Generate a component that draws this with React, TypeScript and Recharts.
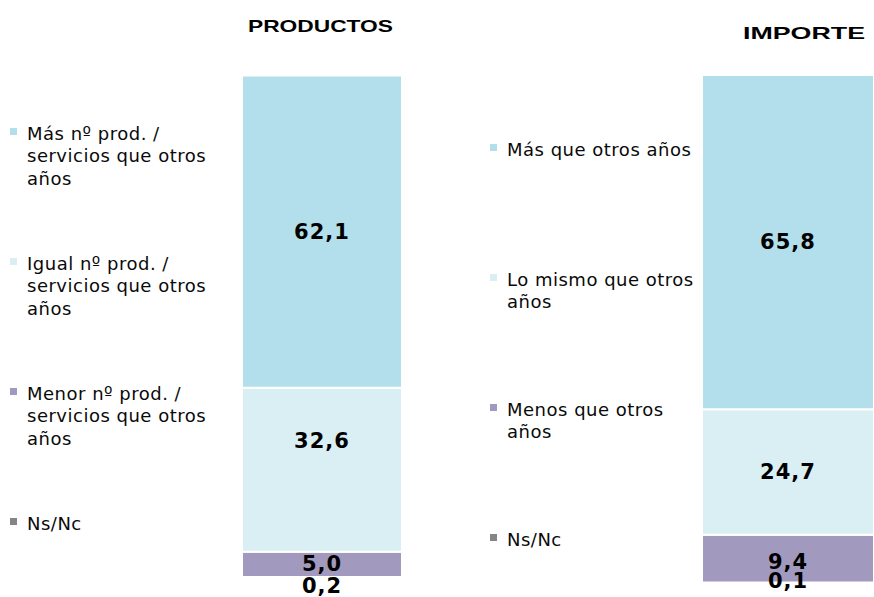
import React from 'react';
import { BarChart, Bar, XAxis, YAxis, LabelList, Legend } from 'recharts';

// ---- data ----
const titles = ['PRODUCTOS', 'IMPORTE'];
const productosSeries = [
  'Más nº prod. / servicios que otros años',
  'Igual nº prod. / servicios que otros años',
  'Menor nº prod. / servicios que otros años',
  'Ns/Nc',
];
const productosValues = [62.1, 32.6, 5.0, 0.2];
const importeSeries = [
  'Más que otros años',
  'Lo mismo que otros años',
  'Menos que otros años',
  'Ns/Nc',
];
const importeValues = [65.8, 24.7, 9.4, 0.1];
const seriesColors = ['#B2DFEB', '#DAEFF4', '#A299BE', '#858585'];

const fmt = (v: number) => v.toFixed(1).replace('.', ',');

type PanelCfg = {
  title: string;
  series: string[];
  values: number[];
  left: number;
  margin: { top: number; right: number; bottom: number; left: number };
  legendWidth: number;
  legendLeft: number;
  titleDx: number;
  titleRise: number;
  titleLength: number;
  firstBaseline: number;
  labelDy: number[];
  legendTextWidth: number;
};

const LegendContent = ({ payload, cfg }: any) => {
  const items = (payload || [])
    .slice()
    .sort((a: any, b: any) => String(a.dataKey).localeCompare(String(b.dataKey)));
  return (
    <div style={{ position: 'relative', width: cfg.legendWidth, height: 597 }}>
      {items.map((it: any, i: number) => {
        const top = cfg.firstBaseline - 17.5 + i * 130;
        return (
          <div
            key={i}
            style={{
              position: 'absolute',
              left: 0,
              top,
              display: 'flex',
              alignItems: 'flex-start',
            }}
          >
            <div
              style={{
                width: 7,
                height: 7,
                marginTop: 5,
                background: it.color,
                flex: 'none',
              }}
            />
            <div
              style={{
                marginLeft: 10,
                width: cfg.legendTextWidth,
                fontFamily: '"DejaVu Sans", Verdana, sans-serif',
                fontSize: 18,
                letterSpacing: 0.5,
                lineHeight: '22.5px',
                color: '#0a0a0a',
              }}
            >
              {it.value}
            </div>
          </div>
        );
      })}
    </div>
  );
};

const makeLabel = (dy: number) => (props: any) => {
  const { x, y, width, height, value } = props;
  return (
    <text
      x={Number(x) + Number(width) / 2}
      y={Number(y) + Number(height) / 2 + dy}
      textAnchor="middle"
      dominantBaseline="central"
      fontFamily='"DejaVu Sans", Verdana, sans-serif'
      fontWeight="bold"
      fontSize={21}
      letterSpacing={1}
      fill="#000"
    >
      {fmt(Number(value))}
    </text>
  );
};

const Panel = ({ cfg }: { cfg: PanelCfg }) => {
  const row: any = { cat: cfg.title };
  cfg.values.forEach((v, i) => (row['s' + i] = v));
  const data = [row];
  const order = [3, 2, 1, 0];
  const TitleTick = (p: any) => (
    <text
      x={p.x + cfg.titleDx}
      y={p.y - cfg.titleRise}
      textAnchor="middle"
      fontFamily='"Liberation Sans", Arial, sans-serif'
      fontWeight="bold"
      fontSize={16.5}
      textLength={cfg.titleLength}
      lengthAdjust="spacingAndGlyphs"
      fill="#000"
    >
      {p.payload.value}
    </text>
  );
  return (
    <div style={{ position: 'absolute', left: cfg.left, top: 0 }}>
      <BarChart
        width={437}
        height={597}
        data={data}
        margin={cfg.margin}
        barCategoryGap={0}
      >
        <XAxis
          dataKey="cat"
          orientation="top"
          height={45}
          tickLine={false}
          axisLine={false}
          tickSize={0}
          tickMargin={0}
          tick={TitleTick}
          interval={0}
        />
        <YAxis hide domain={[0, 100]} type="number" allowDataOverflow />
        <Legend
          layout="vertical"
          align="left"
          verticalAlign="top"
          wrapperStyle={{ left: cfg.legendLeft, top: 0, width: cfg.legendWidth, height: 597 }}
          content={(p: any) => <LegendContent payload={p.payload} cfg={cfg} />}
        />
        {order.map((i) => (
          <Bar
            key={i}
            dataKey={'s' + i}
            name={cfg.series[i]}
            stackId="a"
            fill={seriesColors[i]}
            stroke="#ffffff"
            strokeWidth={2}
            isAnimationActive={false}
          >
            <LabelList dataKey={'s' + i} content={makeLabel(cfg.labelDy[i])} />
          </Bar>
        ))}
      </BarChart>
    </div>
  );
};

const panels: PanelCfg[] = [
  {
    title: titles[0],
    series: productosSeries,
    values: productosValues,
    left: 0,
    legendWidth: 230,
    legendLeft: 10,
    margin: { top: 30, right: 35, bottom: 19, left: 12 },
    titleDx: -1.5,
    titleRise: 43,
    titleLength: 145,
    firstBaseline: 140,
    labelDy: [0, -29, 0, 9],
    legendTextWidth: 192,
  },
  {
    title: titles[1],
    series: importeSeries,
    values: importeValues,
    left: 437,
    legendWidth: 230,
    legendLeft: 53,
    margin: { top: 30, right: 0, bottom: 14, left: 35 },
    titleDx: 16,
    titleRise: 36,
    titleLength: 122,
    firstBaseline: 156,
    labelDy: [0, 0, 3, -2],
    legendTextWidth: 192,
  },
];

export default function App() {
  return (
    <div
      style={{
        position: 'absolute',
        left: 0,
        top: 0,
        width: 874,
        height: 597,
        background: '#fff',
        overflow: 'hidden',
      }}
    >
      {panels.map((cfg, i) => (
        <Panel key={i} cfg={cfg} />
      ))}
    </div>
  );
}
